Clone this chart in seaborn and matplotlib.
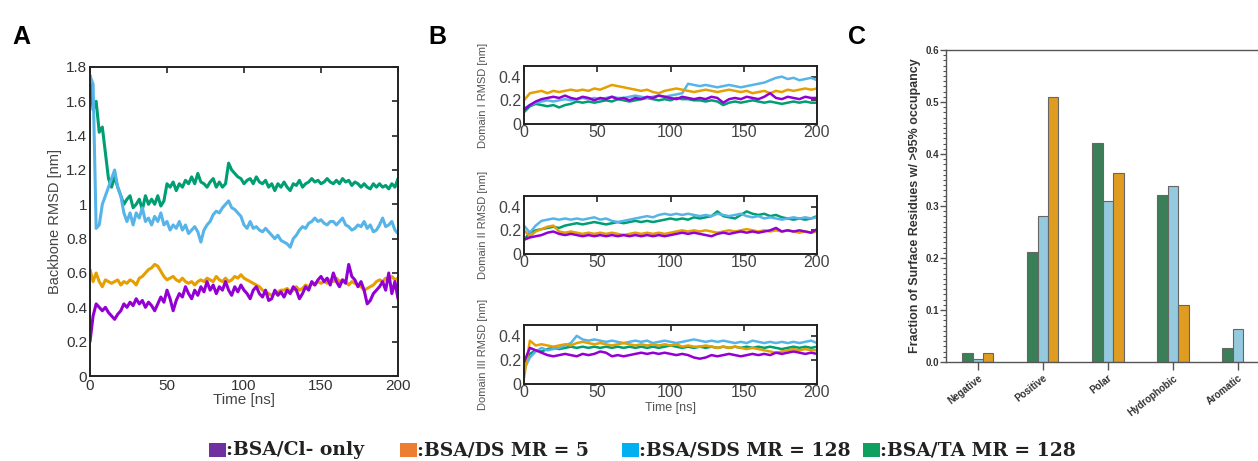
import numpy as np
import pandas as pd
import matplotlib
matplotlib.use("Agg")
import matplotlib.pyplot as plt
from matplotlib.patches import Rectangle
from matplotlib.ticker import MultipleLocator, FormatStrFormatter
import seaborn as sns

sns.set_theme(style="white")
plt.rcParams['font.family'] = ['Liberation Sans', 'DejaVu Sans']

# ---------------- data ----------------
series_names = ["BSA/Cl- only", "BSA/DS MR = 5", "BSA/SDS MR = 128", "BSA/TA MR = 128"]

# Panel A: backbone RMSD, every 2 ns from 0 to 200 ns
time_a = list(range(0, 201, 2))
a_ta = [1.75, 1.55, 1.60, 1.42, 1.45, 1.30, 1.15, 1.10, 1.16, 1.10,
        1.05, 1.00, 1.03, 1.05, 0.98, 1.00, 1.03, 0.97, 1.05, 1.00,
        1.03, 1.00, 1.05, 0.99, 1.02, 1.12, 1.10, 1.13, 1.08, 1.12,
        1.10, 1.14, 1.12, 1.16, 1.12, 1.18, 1.13, 1.12, 1.10, 1.13,
        1.15, 1.10, 1.13, 1.10, 1.12, 1.24, 1.20, 1.18, 1.16, 1.15,
        1.12, 1.14, 1.15, 1.12, 1.16, 1.13, 1.12, 1.14, 1.10, 1.12,
        1.08, 1.12, 1.10, 1.13, 1.10, 1.08, 1.12, 1.11, 1.14, 1.10,
        1.12, 1.13, 1.15, 1.13, 1.14, 1.12, 1.13, 1.15, 1.13, 1.12,
        1.14, 1.12, 1.15, 1.13, 1.14, 1.11, 1.13, 1.12, 1.10, 1.12,
        1.10, 1.09, 1.12, 1.10, 1.12, 1.10, 1.11, 1.09, 1.12, 1.10,
        1.15]
a_sds = [1.75, 1.70, 0.86, 0.88, 1.00, 1.05, 1.10, 1.15, 1.20, 1.10,
         1.05, 0.95, 0.90, 0.95, 0.88, 0.95, 0.92, 0.98, 0.90, 0.92,
         0.88, 0.93, 0.90, 0.95, 0.88, 0.90, 0.85, 0.88, 0.86, 0.90,
         0.85, 0.88, 0.83, 0.85, 0.87, 0.84, 0.78, 0.85, 0.88, 0.90,
         0.94, 0.96, 0.95, 0.98, 1.00, 1.02, 0.98, 0.97, 0.95, 0.93,
         0.88, 0.86, 0.90, 0.86, 0.87, 0.85, 0.84, 0.86, 0.84, 0.82,
         0.80, 0.82, 0.79, 0.78, 0.77, 0.75, 0.80, 0.82, 0.85, 0.87,
         0.86, 0.89, 0.90, 0.92, 0.90, 0.91, 0.89, 0.88, 0.90, 0.90,
         0.88, 0.90, 0.92, 0.88, 0.87, 0.85, 0.86, 0.88, 0.87, 0.90,
         0.86, 0.88, 0.84, 0.85, 0.88, 0.92, 0.87, 0.88, 0.90, 0.85,
         0.83]
a_ds = [0.62, 0.55, 0.60, 0.55, 0.52, 0.56, 0.55, 0.54, 0.55, 0.56,
        0.53, 0.55, 0.54, 0.56, 0.55, 0.53, 0.57, 0.58, 0.60, 0.62,
        0.63, 0.65, 0.64, 0.61, 0.58, 0.56, 0.57, 0.58, 0.56, 0.55,
        0.57, 0.55, 0.54, 0.55, 0.53, 0.55, 0.56, 0.55, 0.57, 0.56,
        0.55, 0.58, 0.56, 0.55, 0.57, 0.55, 0.56, 0.58, 0.57, 0.59,
        0.57, 0.56, 0.55, 0.54, 0.53, 0.52, 0.50, 0.49, 0.48, 0.47,
        0.48, 0.49, 0.50, 0.50, 0.51, 0.49, 0.50, 0.52, 0.50, 0.51,
        0.53, 0.52, 0.54, 0.53, 0.55, 0.54, 0.55, 0.54, 0.56, 0.55,
        0.57, 0.55, 0.56, 0.55, 0.53, 0.55, 0.54, 0.53, 0.52, 0.50,
        0.51, 0.52, 0.53, 0.55, 0.56, 0.55, 0.57, 0.56, 0.58, 0.56,
        0.57]
a_cl = [0.20, 0.35, 0.42, 0.40, 0.38, 0.40, 0.37, 0.35, 0.33, 0.36,
        0.38, 0.42, 0.40, 0.43, 0.41, 0.45, 0.42, 0.44, 0.40, 0.43,
        0.41, 0.38, 0.42, 0.46, 0.43, 0.50, 0.45, 0.38, 0.44, 0.48,
        0.46, 0.52, 0.48, 0.45, 0.50, 0.47, 0.52, 0.49, 0.55, 0.50,
        0.53, 0.48, 0.52, 0.50, 0.55, 0.50, 0.47, 0.52, 0.49, 0.53,
        0.50, 0.48, 0.45, 0.50, 0.52, 0.48, 0.46, 0.50, 0.44, 0.45,
        0.50, 0.47, 0.49, 0.46, 0.50, 0.48, 0.52, 0.50, 0.45, 0.48,
        0.52, 0.50, 0.55, 0.53, 0.56, 0.58, 0.55, 0.57, 0.53, 0.60,
        0.55, 0.52, 0.56, 0.54, 0.65, 0.58, 0.56, 0.52, 0.55, 0.50,
        0.42, 0.44, 0.48, 0.50, 0.52, 0.55, 0.50, 0.60, 0.48, 0.55,
        0.45]

# Panel B: domain RMSD, every 4 ns from 0 to 200 ns
time_b = list(range(0, 201, 4))
d1_cl = [0.12, 0.16, 0.19, 0.21, 0.22, 0.23, 0.22, 0.24, 0.22, 0.21,
         0.23, 0.22, 0.20, 0.22, 0.21, 0.23, 0.21, 0.22, 0.20, 0.22,
         0.21, 0.23, 0.22, 0.24, 0.23, 0.22, 0.21, 0.23, 0.22, 0.21,
         0.22, 0.21, 0.23, 0.22, 0.18, 0.21, 0.22, 0.21, 0.23, 0.22,
         0.21, 0.23, 0.26, 0.22, 0.21, 0.23, 0.22, 0.21, 0.23, 0.22,
         0.22]
d1_ds = [0.20, 0.26, 0.27, 0.28, 0.26, 0.28, 0.27, 0.28, 0.29, 0.28,
         0.29, 0.28, 0.30, 0.29, 0.31, 0.33, 0.32, 0.31, 0.30, 0.29,
         0.28, 0.29, 0.27, 0.26, 0.28, 0.29, 0.30, 0.29, 0.28, 0.27,
         0.28, 0.29, 0.28, 0.27, 0.28, 0.29, 0.28, 0.27, 0.28, 0.26,
         0.27, 0.28, 0.26, 0.28, 0.27, 0.29, 0.28, 0.29, 0.30, 0.29,
         0.30]
d1_sds = [0.13, 0.16, 0.18, 0.19, 0.20, 0.19, 0.20, 0.21, 0.20, 0.21,
          0.22, 0.21, 0.22, 0.21, 0.22, 0.23, 0.22, 0.22, 0.23, 0.24,
          0.23, 0.22, 0.23, 0.24, 0.23, 0.24, 0.25, 0.26, 0.34, 0.33,
          0.32, 0.33, 0.32, 0.31, 0.32, 0.33, 0.32, 0.31, 0.32, 0.33,
          0.34, 0.35, 0.37, 0.39, 0.40, 0.38, 0.39, 0.37, 0.38, 0.39,
          0.37]
d1_ta = [0.10, 0.15, 0.17, 0.16, 0.15, 0.16, 0.14, 0.16, 0.17, 0.19,
         0.18, 0.19, 0.18, 0.19, 0.20, 0.19, 0.21, 0.20, 0.19, 0.20,
         0.21, 0.22, 0.21, 0.20, 0.21, 0.20, 0.22, 0.21, 0.21, 0.20,
         0.20, 0.19, 0.20, 0.19, 0.16, 0.18, 0.19, 0.18, 0.19, 0.20,
         0.19, 0.18, 0.19, 0.18, 0.17, 0.18, 0.19, 0.18, 0.19, 0.18,
         0.18]

d2_cl = [0.12, 0.14, 0.15, 0.16, 0.18, 0.19, 0.17, 0.16, 0.17, 0.16,
         0.15, 0.16, 0.15, 0.16, 0.15, 0.16, 0.15, 0.16, 0.15, 0.16,
         0.15, 0.16, 0.15, 0.16, 0.15, 0.16, 0.17, 0.18, 0.17, 0.18,
         0.17, 0.16, 0.15, 0.17, 0.18, 0.17, 0.18, 0.19, 0.18, 0.19,
         0.18, 0.19, 0.20, 0.22, 0.19, 0.20, 0.19, 0.20, 0.19, 0.18,
         0.21]
d2_ds = [0.20, 0.15, 0.19, 0.21, 0.23, 0.24, 0.19, 0.18, 0.19, 0.18,
         0.17, 0.18, 0.17, 0.18, 0.17, 0.18, 0.17, 0.16, 0.17, 0.18,
         0.17, 0.18, 0.17, 0.18, 0.17, 0.18, 0.19, 0.20, 0.19, 0.20,
         0.19, 0.20, 0.19, 0.18, 0.19, 0.20, 0.19, 0.20, 0.21, 0.20,
         0.19, 0.20, 0.19, 0.20, 0.19, 0.20, 0.19, 0.18, 0.19, 0.18,
         0.19]
d2_sds = [0.24, 0.18, 0.24, 0.28, 0.29, 0.30, 0.29, 0.30, 0.29, 0.30,
          0.29, 0.30, 0.31, 0.29, 0.30, 0.28, 0.27, 0.28, 0.29, 0.30,
          0.31, 0.32, 0.31, 0.33, 0.34, 0.33, 0.34, 0.33, 0.34, 0.33,
          0.32, 0.33, 0.32, 0.34, 0.33, 0.32, 0.33, 0.34, 0.32, 0.31,
          0.32, 0.30, 0.31, 0.30, 0.29, 0.30, 0.31, 0.30, 0.31, 0.30,
          0.31]
d2_ta = [0.12, 0.18, 0.20, 0.21, 0.22, 0.23, 0.22, 0.24, 0.25, 0.26,
         0.25, 0.26, 0.27, 0.26, 0.25, 0.26, 0.27, 0.26, 0.27, 0.28,
         0.27, 0.28, 0.27, 0.28, 0.29, 0.30, 0.29, 0.30, 0.29, 0.31,
         0.30, 0.31, 0.32, 0.36, 0.32, 0.31, 0.30, 0.33, 0.36, 0.34,
         0.33, 0.34, 0.32, 0.33, 0.31, 0.30, 0.29, 0.30, 0.29, 0.30,
         0.32]

d3_cl = [0.18, 0.30, 0.28, 0.26, 0.24, 0.23, 0.24, 0.25, 0.24, 0.23,
         0.25, 0.24, 0.25, 0.27, 0.26, 0.23, 0.24, 0.23, 0.24, 0.25,
         0.26, 0.25, 0.26, 0.25, 0.26, 0.25, 0.24, 0.25, 0.24, 0.22,
         0.21, 0.22, 0.24, 0.23, 0.24, 0.25, 0.24, 0.23, 0.24, 0.25,
         0.24, 0.25, 0.24, 0.26, 0.25, 0.26, 0.27, 0.26, 0.25, 0.26,
         0.25]
d3_ds = [0.05, 0.36, 0.32, 0.33, 0.32, 0.31, 0.32, 0.33, 0.32, 0.34,
         0.35, 0.34, 0.33, 0.34, 0.33, 0.32, 0.33, 0.34, 0.33, 0.32,
         0.33, 0.32, 0.33, 0.32, 0.33, 0.32, 0.33, 0.31, 0.32, 0.31,
         0.31, 0.32, 0.31, 0.30, 0.31, 0.30, 0.31, 0.30, 0.29, 0.30,
         0.29, 0.28, 0.27, 0.26, 0.27, 0.28, 0.29, 0.28, 0.29, 0.28,
         0.28]
d3_sds = [0.12, 0.22, 0.27, 0.30, 0.28, 0.29, 0.30, 0.32, 0.34, 0.40,
          0.37, 0.36, 0.37, 0.36, 0.35, 0.36, 0.35, 0.34, 0.35, 0.36,
          0.35, 0.36, 0.34, 0.35, 0.36, 0.35, 0.34, 0.35, 0.36, 0.37,
          0.36, 0.35, 0.36, 0.35, 0.36, 0.35, 0.34, 0.35, 0.34, 0.36,
          0.35, 0.34, 0.35, 0.34, 0.35, 0.34, 0.35, 0.34, 0.35, 0.36,
          0.34]
d3_ta = [0.18, 0.25, 0.28, 0.27, 0.29, 0.30, 0.29, 0.30, 0.31, 0.30,
         0.31, 0.30, 0.31, 0.30, 0.31, 0.30, 0.31, 0.30, 0.31, 0.30,
         0.31, 0.30, 0.31, 0.30, 0.31, 0.32, 0.31, 0.30, 0.31, 0.30,
         0.31, 0.30, 0.31, 0.30, 0.31, 0.30, 0.31, 0.30, 0.31, 0.30,
         0.31, 0.30, 0.31, 0.30, 0.29, 0.30, 0.31, 0.30, 0.31, 0.30,
         0.31]

# Panel C: fraction of surface residues with >95% occupancy
residue_types = ["Negative", "Positive", "Polar", "Hydrophobic", "Aromatic"]
c_ta = [0.018, 0.211, 0.422, 0.321, 0.027]
c_sds = [0.006, 0.281, 0.309, 0.338, 0.063]
c_ds = [0.018, 0.510, 0.364, 0.110, 0.0]

# ---------------- style ----------------
line_colors = {"BSA/Cl- only": "#9400D3", "BSA/DS MR = 5": "#E69F00",
               "BSA/SDS MR = 128": "#56B4E9", "BSA/TA MR = 128": "#009E73"}
bar_colors = {"TA": "#2E8B57", "SDS": "#87CEEB", "DS": "#FFA500"}
legend_colors = ["#7030A0", "#ED7D31", "#00B0F0", "#0FA060"]
draw_order = ["BSA/TA MR = 128", "BSA/SDS MR = 128", "BSA/DS MR = 5", "BSA/Cl- only"]

W, H = 1258, 461
fig = plt.figure(figsize=(W / 100, H / 100), dpi=100)


def ax_px(l, t, r, b):
    return fig.add_axes([l / W, 1 - b / H, (r - l) / W, (b - t) / H])


def long_df(t, cl, ds, sds, ta):
    frames = []
    for name, vals in zip(series_names, [cl, ds, sds, ta]):
        frames.append(pd.DataFrame({"t": t, "v": vals, "s": name}))
    return pd.concat(frames, ignore_index=True)


def style_box(ax, tick_size, tc="#333333"):
    for sp in ax.spines.values():
        sp.set_visible(True)
        sp.set_color("#222222")
        sp.set_linewidth(1.4)
    ax.tick_params(direction="in", top=True, right=True, length=4, width=1.2,
                   color="#222222", labelsize=tick_size, labelcolor=tc, pad=2)


# ---- Panel A ----
axA = ax_px(90, 67, 398, 376)
dfA = long_df(time_a, a_cl, a_ds, a_sds, a_ta)
sns.lineplot(data=dfA, x="t", y="v", hue="s", hue_order=draw_order,
             palette=line_colors, linewidth=2.2, legend=False, ax=axA)
axA.set_xlim(0, 200)
axA.set_ylim(0, 1.8)
axA.set_xticks([0, 50, 100, 150, 200])
axA.set_yticks(np.arange(0, 1.81, 0.2))
axA.set_yticklabels(["0", "0.2", "0.4", "0.6", "0.8", "1", "1.2", "1.4", "1.6", "1.8"])
style_box(axA, 11)
axA.set_xlabel("Time [ns]", fontsize=11, color="#444444", labelpad=0)
axA.set_ylabel("Backbone RMSD [nm]", fontsize=10.5, color="#444444", labelpad=3)

# ---- Panel B ----
b_boxes = [(524, 66, 817, 124), (524, 196, 817, 254), (524, 325, 817, 384)]
b_data = [(d1_cl, d1_ds, d1_sds, d1_ta), (d2_cl, d2_ds, d2_sds, d2_ta),
          (d3_cl, d3_ds, d3_sds, d3_ta)]
b_labels = ["Domain I RMSD [nm]", "Domain II RMSD [nm]", "Domain III RMSD [nm]"]
for i, (box, data, lab) in enumerate(zip(b_boxes, b_data, b_labels)):
    ax = ax_px(*box)
    dfB = long_df(time_b, *data)
    sns.lineplot(data=dfB, x="t", y="v", hue="s", hue_order=draw_order,
                 palette=line_colors, linewidth=1.8, legend=False, ax=ax)
    ax.set_xlim(0, 200)
    ax.set_ylim(0, 0.49)
    ax.set_xticks([0, 50, 100, 150, 200])
    ax.set_yticks([0, 0.2, 0.4])
    ax.set_yticklabels(["0", "0.2", "0.4"])
    style_box(ax, 11.5, tc="#444444")
    ax.tick_params(axis="x", pad=1)
    ax.set_ylabel(lab, fontsize=8, color="#555555", labelpad=8)
    if i == 2:
        ax.set_xlabel("Time [ns]", fontsize=9, color="#555555", labelpad=1.5)
    else:
        ax.set_xlabel("")

# ---- Panel C ----
axC = ax_px(946, 50, 1320, 362)
rows = []
for key, vals in [("TA", c_ta), ("SDS", c_sds), ("DS", c_ds)]:
    for cat, v in zip(residue_types, vals):
        rows.append({"cat": cat, "ser": key, "val": v})
dfC = pd.DataFrame(rows)
sns.barplot(data=dfC, x="cat", y="val", hue="ser", hue_order=["TA", "SDS", "DS"],
            order=residue_types, palette=bar_colors, width=0.48,
            edgecolor="#666666", linewidth=0.8, legend=False, ax=axC)
axC.set_xlim(-0.49, (1320 - 978) / 65)
axC.set_ylim(0, 0.6)
axC.set_yticks(np.arange(0, 0.61, 0.1))
axC.yaxis.set_major_formatter(FormatStrFormatter("%.1f"))
axC.yaxis.set_minor_locator(MultipleLocator(0.01))
for side in ["left", "bottom", "top"]:
    axC.spines[side].set_visible(True)
    axC.spines[side].set_color("#555555")
    axC.spines[side].set_linewidth(1.0)
axC.spines["right"].set_visible(False)
axC.tick_params(axis="y", which="major", direction="out", length=4, width=1.0,
                color="#555555", labelsize=7, pad=1, left=True)
axC.tick_params(axis="y", which="minor", direction="out", length=2, width=0.8,
                color="#555555", left=True)
axC.tick_params(axis="x", direction="out", length=6, width=1.0, color="#555555",
                labelsize=7, pad=2, bottom=True)
for lbl in axC.get_yticklabels():
    lbl.set_fontweight("bold")
    lbl.set_color("#333333")
axC.set_xticks(range(len(residue_types)))
axC.set_xticklabels(residue_types, rotation=38, ha="right", rotation_mode="anchor",
                    fontweight="bold", color="#333333")
axC.set_xlabel("")
axC.set_ylabel("Fraction of Surface Residues w/ >95% occupancy", fontsize=9,
               fontweight="bold", color="#333333", labelpad=3)

# ---- panel letters ----
for x, letter in [(12, "A"), (428, "B"), (848, "C")]:
    fig.text(x / W, 1 - 44 / H, letter, fontsize=18, fontweight="bold", color="black")

# ---- legend ----
leg_items = [(209, ":BSA/Cl- only"), (400, ":BSA/DS MR = 5"),
             (622, ":BSA/SDS MR = 128"), (863, ":BSA/TA MR = 128")]
for (x, txt), col in zip(leg_items, legend_colors):
    fig.patches.append(Rectangle((x / W, 1 - 457 / H), 17 / W, 14 / H,
                                 transform=fig.transFigure, facecolor=col,
                                 edgecolor="none"))
    fig.text((x + 17) / W, 1 - 450 / H, txt, fontsize=13.5, fontweight="bold",
             family=["DejaVu Serif"], va="center", color="#222222")

fig.savefig("out.png", dpi=100)
